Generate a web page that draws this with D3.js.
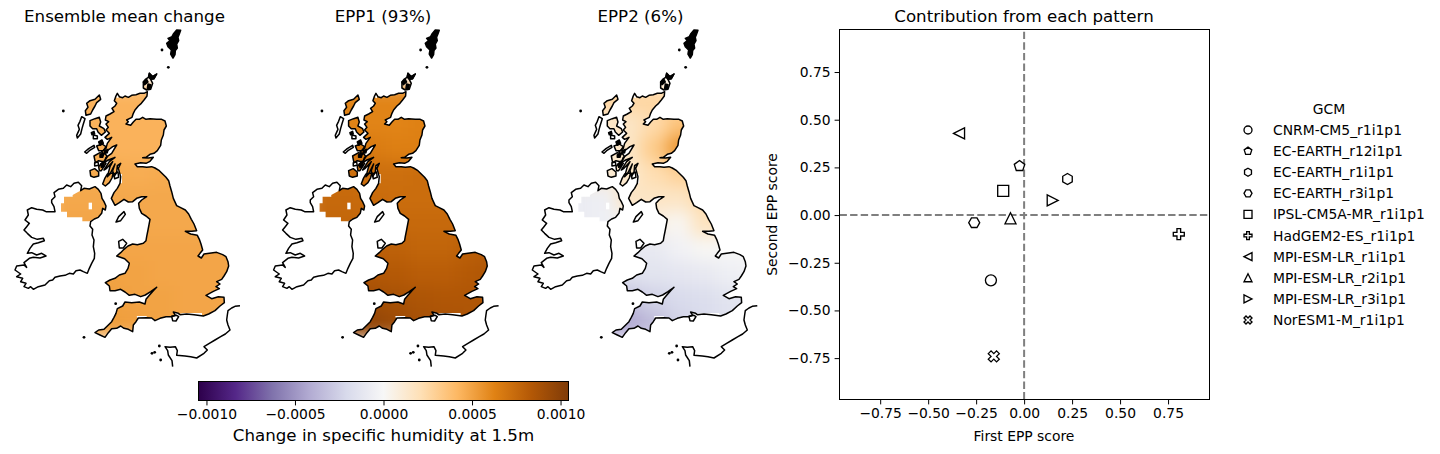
<!DOCTYPE html>
<html><head><meta charset="utf-8">
<script src="https://cdn.jsdelivr.net/npm/d3@7/dist/d3.min.js"></script>
<style>
html,body{margin:0;padding:0;background:#fff;overflow:hidden}
text{font-family:"DejaVu Sans",sans-serif;fill:#000}
</style></head><body>
<svg id="c" width="1440" height="454"></svg>
<script>
const titles=["Ensemble mean change","EPP1 (93%)","EPP2 (6%)"];
const cmapColors=['#2d004b','#542788','#8073ac','#b2abd2','#d8daeb','#f7f7f7','#fee0b6','#fdb863','#e08214','#b35806','#7f3b08'];
const cbarTicks=[-0.001,-0.0005,0,0.0005,0.001];
const cbarLabel="Change in specific humidity at 1.5m";
const gcmNames=["CNRM-CM5_r1i1p1","EC-EARTH_r12i1p1","EC-EARTH_r1i1p1","EC-EARTH_r3i1p1","IPSL-CM5A-MR_r1i1p1","HadGEM2-ES_r1i1p1","MPI-ESM-LR_r1i1p1","MPI-ESM-LR_r2i1p1","MPI-ESM-LR_r3i1p1","NorESM1-M_r1i1p1"];
const gcmMarkers=["o","p","h","H","s","P","<","^",">","X"];
const eppFirst=[-0.173,-0.024,0.226,-0.260,-0.109,0.806,-0.339,-0.071,0.149,-0.158];
const eppSecond=[-0.342,0.257,0.189,-0.040,0.127,-0.100,0.428,-0.017,0.077,-0.741];
const scatterTicks=[-0.75,-0.5,-0.25,0,0.25,0.5,0.75];
// field samples, e-4 kg/kg, cols x=187..712 step 75, rows y=237..912 step 75 (map units)
const fieldMean=[
[4.4,4.4,4.4,4.4,4.4,4.4,4.4,4.4],
[4.4,4.4,4.4,4.4,4.4,4.4,4.4,4.4],
[4.5,4.5,4.4,4.4,4.4,4.4,4.4,4.4],
[4.7,4.7,4.7,4.6,4.7,4.7,4.7,4.7],
[4.8,4.8,4.8,4.8,4.8,4.8,4.8,4.8],
[4.9,4.9,4.8,4.8,4.8,4.8,4.8,4.8],
[4.9,4.9,4.9,4.9,4.9,4.9,4.9,4.9],
[5.0,5.0,5.0,5.0,4.9,4.9,4.9,4.9],
[5.1,5.1,5.1,5.0,5.0,4.9,4.9,4.9],
[5.2,5.2,5.2,5.1,5.0,4.9,4.9,4.9]];
const fieldEpp1=[
[6.2,6.2,6.2,6.2,6.4,6.6,6.6,6.6],
[6.2,6.2,6.2,6.2,6.3,6.5,6.5,6.5],
[6.8,6.8,6.6,6.4,6.4,6.6,6.6,6.6],
[7.2,7.2,7.2,7.2,7.3,7.3,7.3,7.3],
[7.5,7.5,7.4,7.3,7.3,7.3,7.3,7.3],
[7.6,7.6,7.6,7.5,7.5,7.5,7.5,7.5],
[7.9,7.9,8.0,7.9,7.7,7.7,8.0,8.2],
[8.3,8.3,8.4,8.3,8.1,8.1,8.3,8.6],
[9.0,9.0,9.0,8.8,8.6,8.5,8.5,8.6],
[9.7,9.7,9.7,9.3,8.9,8.7,8.6,8.6]];
const fieldEpp2=[
[2.6,2.6,2.6,2.6,2.4,2.0,2.0,2.0],
[1.5,1.5,1.6,2.4,3.6,3.6,3.6,3.6],
[1.4,1.4,1.6,3.2,5.4,5.4,5.4,5.4],
[1.2,1.2,1.4,2.2,2.8,2.8,2.8,2.8],
[-0.8,-0.6,1.6,1.6,1.6,2.4,2.4,2.4],
[-0.8,-0.6,0.2,0.6,0.2,1.8,1.8,1.8],
[-1.0,-1.0,-1.0,-1.0,-0.4,0.1,-0.1,-0.1],
[-1.6,-1.6,-1.6,-1.4,-1.2,-1.0,-0.6,-0.4],
[-3.0,-3.0,-3.0,-2.4,-2.0,-1.8,-1.4,-1.4],
[-4.2,-4.2,-4.2,-3.4,-2.4,-2.0,-1.6,-1.6]];
const fields=[fieldMean,fieldEpp1,fieldEpp2];
const fieldX=[187.5,262.5,337.5,412.5,487.5,562.5,637.5,712.5];
const fieldY=[237.5,312.5,387.5,462.5,537.5,612.5,687.5,762.5,837.5,912.5];
// coastlines, in map units
const gbMain=[[352,220],[358,230],[368,233],[375,228],[385,232],[395,226],[408,224],[420,220],[432,220],[442,215],[441,228],[432,240],[424,250],[415,258],[405,270],[400,280],[396,292],[388,296],[380,300],[385,305],[378,312],[392,316],[400,306],[408,298],[418,298],[428,292],[438,298],[450,296],[470,298],[485,298],[495,303],[499,318],[492,330],[490,345],[484,360],[482,376],[472,392],[462,400],[450,403],[438,412],[428,413],[445,414],[460,412],[450,424],[438,430],[422,428],[405,432],[412,440],[428,440],[440,442],[455,440],[465,444],[478,452],[488,462],[498,472],[506,482],[510,498],[515,515],[520,535],[530,557],[542,563],[556,570],[566,582],[574,598],[582,612],[590,632],[575,634],[556,634],[572,642],[592,646],[598,658],[603,672],[608,690],[600,700],[594,708],[604,714],[612,702],[628,700],[650,697],[668,704],[678,710],[684,725],[686,738],[680,755],[672,768],[665,778],[650,785],[660,792],[648,800],[658,806],[640,814],[618,826],[635,836],[655,830],[672,832],[673,848],[660,858],[645,872],[626,882],[610,888],[582,884],[560,882],[540,884],[535,880],[520,876],[526,886],[514,890],[498,890],[480,895],[465,902],[455,894],[440,893],[415,894],[408,905],[400,915],[398,935],[385,928],[372,925],[362,918],[350,925],[335,926],[325,938],[315,952],[300,945],[285,938],[296,930],[312,928],[322,918],[335,905],[342,892],[348,880],[352,866],[368,858],[375,846],[395,848],[418,846],[435,852],[438,838],[448,826],[460,812],[470,802],[452,815],[436,825],[422,830],[405,823],[388,826],[375,816],[362,808],[345,812],[330,812],[328,798],[316,788],[330,780],[345,775],[358,765],[375,760],[384,745],[388,730],[374,716],[350,708],[362,698],[372,688],[384,678],[398,672],[412,674],[430,670],[438,662],[440,650],[444,630],[450,598],[438,588],[425,580],[418,565],[416,550],[425,540],[440,530],[425,530],[410,535],[398,545],[385,546],[372,538],[358,548],[345,556],[334,535],[342,518],[352,505],[360,490],[362,470],[355,445],[362,430],[352,437],[350,458],[342,470],[338,452],[345,432],[330,462],[322,470],[330,440],[338,425],[320,445],[312,450],[328,425],[345,412],[325,420],[312,428],[318,412],[335,400],[350,375],[338,380],[325,390],[310,402],[305,395],[318,385],[322,370],[335,352],[322,358],[315,352],[328,340],[318,330],[325,322],[318,312],[326,305],[316,300],[318,288],[330,282],[342,275],[336,265],[345,258],[350,250],[343,242],[347,230]];
const ireland=[[155,540],[165,530],[162,518],[175,508],[190,505],[200,495],[212,500],[222,490],[235,487],[245,497],[242,512],[252,505],[268,507],[285,500],[295,508],[303,520],[306,535],[312,545],[318,558],[316,570],[308,565],[305,580],[295,592],[283,597],[272,605],[270,618],[278,628],[276,645],[282,660],[280,680],[284,700],[283,715],[275,730],[268,745],[262,760],[250,755],[240,750],[228,752],[220,762],[208,760],[195,766],[180,768],[165,772],[158,780],[148,782],[135,795],[115,800],[100,808],[92,800],[85,805],[72,800],[78,790],[62,785],[68,775],[50,770],[62,762],[45,750],[50,738],[72,735],[80,742],[72,728],[88,715],[100,712],[120,714],[138,708],[125,700],[110,705],[95,698],[82,700],[90,685],[100,672],[115,668],[133,662],[130,655],[112,658],[95,652],[82,640],[72,630],[80,620],[88,610],[75,600],[85,585],[82,570],[95,563],[110,568],[128,570],[138,575],[150,575],[165,575],[162,560],[155,548]];
const niArea=[[192,530],[218,530],[218,525],[245,510],[250,505],[268,507],[285,500],[295,508],[303,520],[306,535],[312,545],[318,558],[316,570],[308,565],[305,580],[295,592],[283,597],[268,604],[247,604],[247,592],[201,592],[201,575],[183,575],[183,550],[192,550]];
const niGap=[[266,548],[276,548],[276,568],[266,568]];
const fieldGaps=[[[536,879],[606,879],[606,886],[560,884]],[[356,462],[366,462],[366,490],[358,490]],[[410,888],[440,888],[440,894],[412,894]],[[350,220],[358,220],[355,235],[348,232]]];
const islandsSolid=[
[[530,30],[542,31],[538,42],[534,52],[536,62],[530,72],[532,84],[526,92],[525,104],[519,114],[512,102],[514,90],[504,80],[500,70],[510,62],[504,55],[516,50],[520,42]],
[[448,160],[458,170],[470,162],[462,176],[452,178],[446,172]],
[[430,186],[440,178],[444,186],[434,194]],
[[444,192],[452,194],[450,208],[442,206]],
[[296,366],[306,360],[310,370],[300,376]],
[[314,392],[324,388],[322,398],[314,400]],
[[300,404],[312,400],[308,412],[300,412]],
[[274,338],[282,334],[284,342],[276,344]],
[[302,432],[312,428],[312,440],[304,442]]];
const islands=[
[[430,186],[436,178],[445,172],[448,160],[458,170],[470,162],[462,176],[452,178],[458,190],[452,208],[440,210],[430,204]],
[[298,225],[302,238],[290,248],[285,258],[278,270],[272,282],[258,286],[256,272],[264,262],[260,250],[270,242],[285,238]],
[[245,290],[255,296],[250,312],[246,326],[242,342],[232,354],[230,346],[238,328],[234,316],[240,304]],
[[270,302],[285,296],[298,292],[302,306],[298,318],[312,326],[316,336],[304,346],[294,336],[290,326],[278,326],[270,318]],
[[280,345],[292,348],[292,356],[280,356]],
[[254,396],[266,386],[282,376],[284,382],[268,392],[260,400]],
[[290,378],[306,372],[318,380],[310,392],[296,392]],
[[282,408],[300,398],[316,402],[322,410],[312,426],[296,422],[286,428]],
[[270,452],[284,446],[296,456],[296,468],[282,472],[272,468]],
[[296,440],[310,424],[318,430],[304,452],[298,452]],
[[308,492],[314,476],[322,462],[340,458],[336,474],[328,488],[316,498]],
[[342,462],[354,456],[356,472],[344,476]],
[[284,428],[294,426],[296,436],[284,438]],
[[348,606],[356,590],[372,575],[376,583],[362,602]],
[[356,664],[368,658],[380,670],[370,684],[358,684]],
[[515,889],[530,886],[536,890],[528,903],[518,902]]];
const dots=[[190,273],[486,90],[505,142],[252,952],[347,851],[456,1000],[464,997],[482,1020],[478,978]];
const france=[[720,857],[705,859],[695,864],[684,872],[682,885],[680,900],[684,915],[690,930],[676,942],[662,950],[645,960],[628,970],[612,980],[622,990],[612,1000],[590,1014],[572,1010],[555,1008],[530,1006],[532,992],[526,980],[510,982],[495,980],[503,992],[505,1005],[516,1022],[518,1040]];

const svg=d3.select("#c");
const f13="13.89px",f16="16.67px";
const cmap=d3.scaleLinear().domain(d3.range(11).map(i=>-0.001045+i*0.000209)).range(cmapColors).clamp(true);
const defs=svg.append("defs");
const flt=defs.append("filter").attr("id","blur").attr("filterUnits","userSpaceOnUse").attr("x",0).attr("y",0).attr("width",1440).attr("height",454).attr("color-interpolation-filters","sRGB");
flt.append("feGaussianBlur").attr("stdDeviation",8);
const panelOffsets=[0,258.6,517.3];
const toX=o=>d3.scaleLinear().domain([0,780]).range([o,o+260]);
const toY=d3.scaleLinear().domain([0,1050]).range([20,370]);
panelOffsets.forEach((off,i)=>{
  const x=toX(off),y=toY;
  const line=d3.line().x(d=>x(d[0])).y(d=>y(d[1])).curve(d3.curveLinearClosed);
  const open=d3.line().x(d=>x(d[0])).y(d=>y(d[1]));
  const g=svg.append("g");
  const clip=defs.append("clipPath").attr("id","land"+i);
  [gbMain,niArea,islands[0],islands[1],islands[3],islands[6],islands[7],islands[8],islands[9],islands[10]].forEach(p=>clip.append("path").attr("d",line(p)));
  const clipped=g.append("g").attr("clip-path",`url(#land${i})`);
  const blurred=clipped.append("g").attr("filter","url(#blur)");
  fields[i].forEach((row,r)=>row.forEach((v,c)=>{
    blurred.append("rect").attr("x",x(fieldX[c]-37.5)-0.5).attr("y",y(fieldY[r]-37.5)-0.5)
      .attr("width",x(75)-x(0)+1).attr("height",y(75)-y(0)+1).attr("fill",cmap(v*1e-4));
  }));
  g.append("path").attr("d",line(niGap)).attr("fill","#fff");
  fieldGaps.forEach(p=>g.append("path").attr("d",line(p)).attr("fill","#fff"));
  const coast=g.append("g").attr("fill","none").attr("stroke","#000").attr("stroke-width",1.5).attr("stroke-linejoin","round");
  coast.append("path").attr("d",line(gbMain));
  coast.append("path").attr("d",line(ireland));
  islands.forEach(p=>coast.append("path").attr("d",line(p)));
  islandsSolid.forEach(p=>coast.append("path").attr("d",line(p)).attr("fill","#000"));
  coast.append("path").attr("d",open(france));
  g.selectAll("circle").data(dots).join("circle").attr("cx",d=>x(d[0])).attr("cy",d=>y(d[1])).attr("r",1.4).attr("fill","#000");
  svg.append("text").attr("x",[124.5,383,640.5][i]).attr("y",21.5).attr("text-anchor","middle").attr("font-size",f16).text(titles[i]);
});

// colour bar
const cbX=d3.scaleLinear().domain([-0.001045,0.001045]).range([198.5,568.5]);
const grad=defs.append("linearGradient").attr("id","cb");
cmapColors.forEach((c,i)=>grad.append("stop").attr("offset",i/10).attr("stop-color",c));
svg.append("rect").attr("x",198.5).attr("y",381.5).attr("width",370).attr("height",19).attr("fill","url(#cb)").attr("stroke","#000").attr("stroke-width",1);
const fmtMinus=s=>s.replace("-","\u2212");
const cbAxis=svg.append("g").attr("transform","translate(0,400.5)").call(d3.axisBottom(cbX).tickValues(cbarTicks).tickSize(4.9).tickPadding(4).tickFormat(d=>fmtMinus(d3.format(".4f")(d))));
cbAxis.select(".domain").remove();
cbAxis.selectAll("text").attr("font-size",f13).attr("font-family","DejaVu Sans");
svg.append("text").attr("x",383.5).attr("y",441).attr("text-anchor","middle").attr("font-size",f16).text(cbarLabel);

// scatter
const sx=d3.scaleLinear().domain([-0.962,0.966]).range([839.5,1209.5]);
const sy=d3.scaleLinear().domain([-0.967,0.973]).range([399.5,29.5]);
const fmt2=d=>fmtMinus(d3.format(".2f")(d));
svg.append("line").attr("x1",839.5).attr("x2",1209.5).attr("y1",sy(0)).attr("y2",sy(0)).attr("stroke","#7f7f7f").attr("stroke-width",2).attr("stroke-dasharray","7.4,3.2");
svg.append("line").attr("y1",399.5).attr("y2",29.5).attr("x1",sx(0)).attr("x2",sx(0)).attr("stroke","#7f7f7f").attr("stroke-width",2).attr("stroke-dasharray","7.4,3.2");
const ax=svg.append("g").attr("transform","translate(0,399.5)").call(d3.axisBottom(sx).tickValues(scatterTicks).tickSize(4.9).tickPadding(4).tickFormat(fmt2));
const ay=svg.append("g").attr("transform","translate(839.5,0)").call(d3.axisLeft(sy).tickValues(scatterTicks).tickSize(4.9).tickPadding(4).tickFormat(fmt2));
[ax,ay].forEach(a=>{a.select(".domain").remove();a.selectAll("text").attr("font-size",f13).attr("font-family","DejaVu Sans");});
svg.append("rect").attr("x",839.5).attr("y",29.5).attr("width",370).attr("height",370).attr("fill","none").attr("stroke","#000").attr("stroke-width",1);
svg.append("text").attr("x",1024).attr("y",21.5).attr("text-anchor","middle").attr("font-size",f16).text("Contribution from each pattern");
svg.append("text").attr("x",1024).attr("y",441).attr("text-anchor","middle").attr("font-size",f13).text("First EPP score");
svg.append("text").attr("transform","translate(777,214.5) rotate(-90)").attr("text-anchor","middle").attr("font-size",f13).text("Second EPP score");

function poly(n,r,rot){return d3.range(n).map(i=>{const a=rot+i*2*Math.PI/n;return [r*Math.sin(a),-r*Math.cos(a)];});}
function markerPath(m,s){
  const r=s/2;
  const p=pts=>"M"+pts.map(q=>q[0].toFixed(2)+","+q[1].toFixed(2)).join("L")+"Z";
  switch(m){
    case "o":return d3.arc()({innerRadius:r,outerRadius:r,startAngle:0,endAngle:2*Math.PI});
    case "s":return p([[-r,-r],[r,-r],[r,r],[-r,r]]);
    case "p":return p(poly(5,r,0));
    case "h":return p(poly(6,r,0));
    case "H":return p(poly(6,r,Math.PI/6));
    case "^":return p([[0,-r],[r,r],[-r,r]]);
    case "<":return p([[-r,0],[r,-r],[r,r]]);
    case ">":return p([[r,0],[-r,r],[-r,-r]]);
    case "P":{const a=r/3;return p([[-a,-r],[a,-r],[a,-a],[r,-a],[r,a],[a,a],[a,r],[-a,r],[-a,a],[-r,a],[-r,-a],[-a,-a]]);}
    case "X":{const a=r/2,b=r;return p([[-b,-a],[-a,-b],[0,-a],[a,-b],[b,-a],[a,0],[b,a],[a,b],[0,a],[-a,b],[-b,a],[-a,0]]);}
  }
}
gcmNames.forEach((n,i)=>{
  svg.append("path").attr("d",markerPath(gcmMarkers[i],11)).attr("transform",`translate(${sx(eppFirst[i])},${sy(eppSecond[i])})`)
    .attr("fill","#fff").attr("stroke","#000").attr("stroke-width",1.33);
  const ly=d3.scaleLinear().domain([0,9]).range([130,320])(i);
  svg.append("path").attr("d",markerPath(gcmMarkers[i],8)).attr("transform",`translate(1248,${ly})`)
    .attr("fill","#fff").attr("stroke","#000").attr("stroke-width",1.33);
  svg.append("text").attr("x",1273).attr("y",ly+5).attr("font-size",f13).text(n);
});
svg.append("text").attr("x",1329).attr("y",114).attr("text-anchor","middle").attr("font-size",f13).text("GCM");
</script></body></html>
